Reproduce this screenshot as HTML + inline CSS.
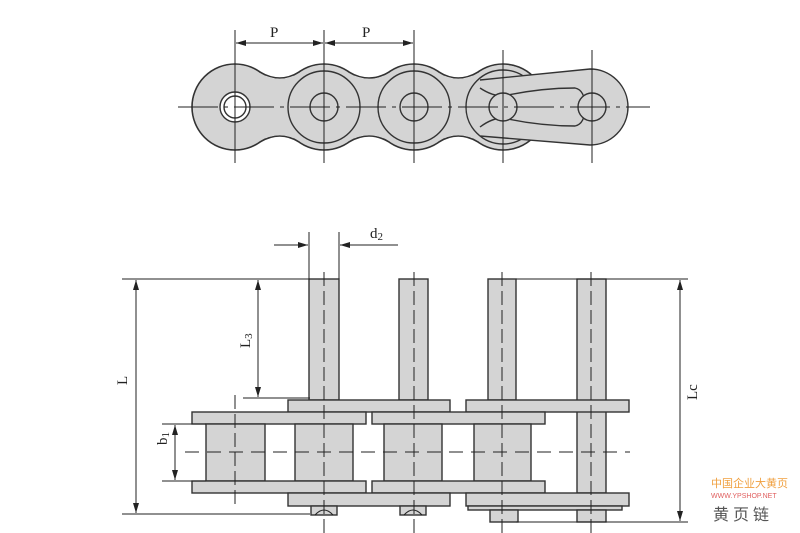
<!DOCTYPE html>
<html><head><meta charset="utf-8"><style>
html,body{margin:0;padding:0;background:#fff;width:800px;height:533px;overflow:hidden}
svg{display:block}
text{font-family:"Liberation Serif",serif;fill:#222}
</style></head><body>
<svg width="800" height="533" viewBox="0 0 800 533" xmlns="http://www.w3.org/2000/svg">
<defs>
<marker id="ar" viewBox="0 0 10 6" refX="10" refY="3" markerWidth="10" markerHeight="6" orient="auto-start-reverse" markerUnits="userSpaceOnUse"><path d="M0,0 L10,3 L0,6z" fill="#222"/></marker>
</defs>
<!-- TOP VIEW -->
<g stroke="#333" stroke-width="1.6" fill="#d4d4d4">
 <circle cx="235" cy="107" r="43"/><circle cx="324" cy="107" r="43"/><circle cx="414" cy="107" r="43"/><circle cx="503" cy="107" r="43"/>
 <path d="M260,72 Q280,84 299,72 M349,72 Q369,84 389,72 M439,72 Q458,84 478,72" fill="none"/>
 <path d="M260,142 Q280,130 299,142 M349,142 Q369,130 389,142 M439,142 Q458,130 478,142" fill="none"/>
</g>
<g fill="#d4d4d4" stroke="none">
 <circle cx="235" cy="107" r="42"/><circle cx="324" cy="107" r="42"/><circle cx="414" cy="107" r="42"/><circle cx="503" cy="107" r="42"/>
 <path d="M260,73 Q280,85 299,73 Q324,65 349,73 Q369,85 389,73 Q414,65 439,73 Q458,85 478,73 L478,141 Q458,129 439,141 Q414,149 389,141 Q369,129 349,141 Q324,149 299,141 Q280,129 260,141 Q235,149 235,107z"/>
</g>
<g stroke="#333" stroke-width="1.4" fill="none">
 <circle cx="324" cy="107" r="36"/><circle cx="414" cy="107" r="36"/><circle cx="503" cy="107" r="37"/>
 <path d="M480,80 L590,69 A38,38 0 0 1 590,145 L480,136" fill="#d4d4d4"/>
 <path d="M480,88 Q492,96 503,96 Q540,88 575,88 Q585,90 585,107 Q585,124 575,126 Q540,126 503,118 Q492,118 480,127" />
 <circle cx="235" cy="107" r="15" fill="#fff"/><circle cx="235" cy="107" r="11" fill="#fff"/>
 <circle cx="324" cy="107" r="14"/><circle cx="414" cy="107" r="14"/>
 <circle cx="503" cy="107" r="14" fill="#d4d4d4"/><circle cx="592" cy="107" r="14" fill="#d4d4d4"/>
</g>
<g stroke="#222" stroke-width="1">
 <line x1="178" y1="107" x2="650" y2="107" stroke-dasharray="40,6,4,6"/>
 <line x1="235" y1="30" x2="235" y2="163"/><line x1="324" y1="30" x2="324" y2="163"/><line x1="414" y1="30" x2="414" y2="163"/>
 <line x1="503" y1="50" x2="503" y2="163"/><line x1="592" y1="50" x2="592" y2="163"/>
 <line x1="236" y1="43" x2="323" y2="43" marker-start="url(#ar)" marker-end="url(#ar)"/>
 <line x1="325" y1="43" x2="413" y2="43" marker-start="url(#ar)" marker-end="url(#ar)"/>
</g>
<text x="270" y="37" font-size="15">P</text><text x="362" y="37" font-size="15">P</text>

<!-- SIDE VIEW -->
<g stroke="#333" stroke-width="1.4" fill="#d4d4d4">
 <rect x="309" y="279" width="30" height="121"/><rect x="399" y="279" width="29" height="121"/>
 <rect x="488" y="279" width="28" height="121"/><rect x="577" y="279" width="29" height="214"/>
 <rect x="288" y="400" width="162" height="12"/><rect x="466" y="400" width="163" height="12"/>
 <rect x="192" y="412" width="174" height="12"/><rect x="372" y="412" width="173" height="12"/>
 <rect x="206" y="424" width="59" height="57"/><rect x="295" y="424" width="58" height="57"/>
 <rect x="384" y="424" width="58" height="57"/><rect x="474" y="424" width="57" height="57"/>
 <rect x="192" y="481" width="174" height="12"/><rect x="372" y="481" width="173" height="12"/>
 <rect x="288" y="493" width="162" height="13"/><rect x="466" y="493" width="163" height="13"/>
 <rect x="468" y="506" width="154" height="4"/>
 <rect x="490" y="510" width="28" height="12"/><rect x="577" y="510" width="29" height="12"/>
 <rect x="311" y="506" width="26" height="9"/><rect x="400" y="506" width="26" height="9"/>
</g>
<g stroke="#222" stroke-width="1" fill="none">
 <path d="M315,515 Q324,505 333,515 M404,515 Q413,505 422,515"/>
 <line x1="185" y1="452" x2="630" y2="452" stroke-dasharray="14,8"/>
 <line x1="324" y1="272" x2="324" y2="534" stroke-dasharray="14,5"/>
 <line x1="414" y1="272" x2="414" y2="534" stroke-dasharray="14,5"/>
 <line x1="502" y1="272" x2="502" y2="534" stroke-dasharray="14,5"/>
 <line x1="591" y1="272" x2="591" y2="534" stroke-dasharray="14,5"/>
 <line x1="235" y1="395" x2="235" y2="508" stroke-dasharray="14,5"/>
 <line x1="122" y1="279" x2="310" y2="279"/><line x1="122" y1="514" x2="310" y2="514"/>
 <line x1="136" y1="280" x2="136" y2="513" marker-start="url(#ar)" marker-end="url(#ar)"/>
 <line x1="258" y1="280" x2="258" y2="397" marker-start="url(#ar)" marker-end="url(#ar)"/>
 <line x1="243" y1="398" x2="310" y2="398"/>
 <line x1="162" y1="424" x2="206" y2="424"/><line x1="162" y1="481" x2="206" y2="481"/>
 <line x1="175" y1="425" x2="175" y2="480" marker-start="url(#ar)" marker-end="url(#ar)"/>
 <line x1="516" y1="279" x2="688" y2="279"/><line x1="516" y1="522" x2="688" y2="522"/>
 <line x1="680" y1="280" x2="680" y2="521" marker-start="url(#ar)" marker-end="url(#ar)"/>
 <line x1="309" y1="232" x2="309" y2="279"/><line x1="339" y1="232" x2="339" y2="279"/>
 <line x1="274" y1="245" x2="308" y2="245" marker-end="url(#ar)"/>
 <line x1="398" y1="245" x2="340" y2="245" marker-end="url(#ar)"/>
</g>
<text x="370" y="238" font-size="15">d<tspan font-size="11" dy="2">2</tspan></text>
<text transform="translate(127,385) rotate(-90)" font-size="15">L</text>
<text transform="translate(250,348) rotate(-90)" font-size="15">L<tspan font-size="11" dy="2">3</tspan></text>
<text transform="translate(167,445) rotate(-90)" font-size="15">b<tspan font-size="11" dy="2">1</tspan></text>
<text transform="translate(697,400) rotate(-90)" font-size="15">Lc</text>

<text x="711" y="487" font-size="11" style="font-family:'Liberation Sans','Noto Sans CJK SC',sans-serif;fill:#f0a040">中国企业大黄页</text>
<text x="711" y="498" font-size="7" style="font-family:'Liberation Sans',sans-serif;fill:#e06060">WWW.YPSHOP.NET</text>
<text x="713" y="520" font-size="16" letter-spacing="4" style="font-family:'Liberation Sans','Noto Sans CJK SC',sans-serif;fill:#555">黄页链</text>
</svg>
</body></html>
